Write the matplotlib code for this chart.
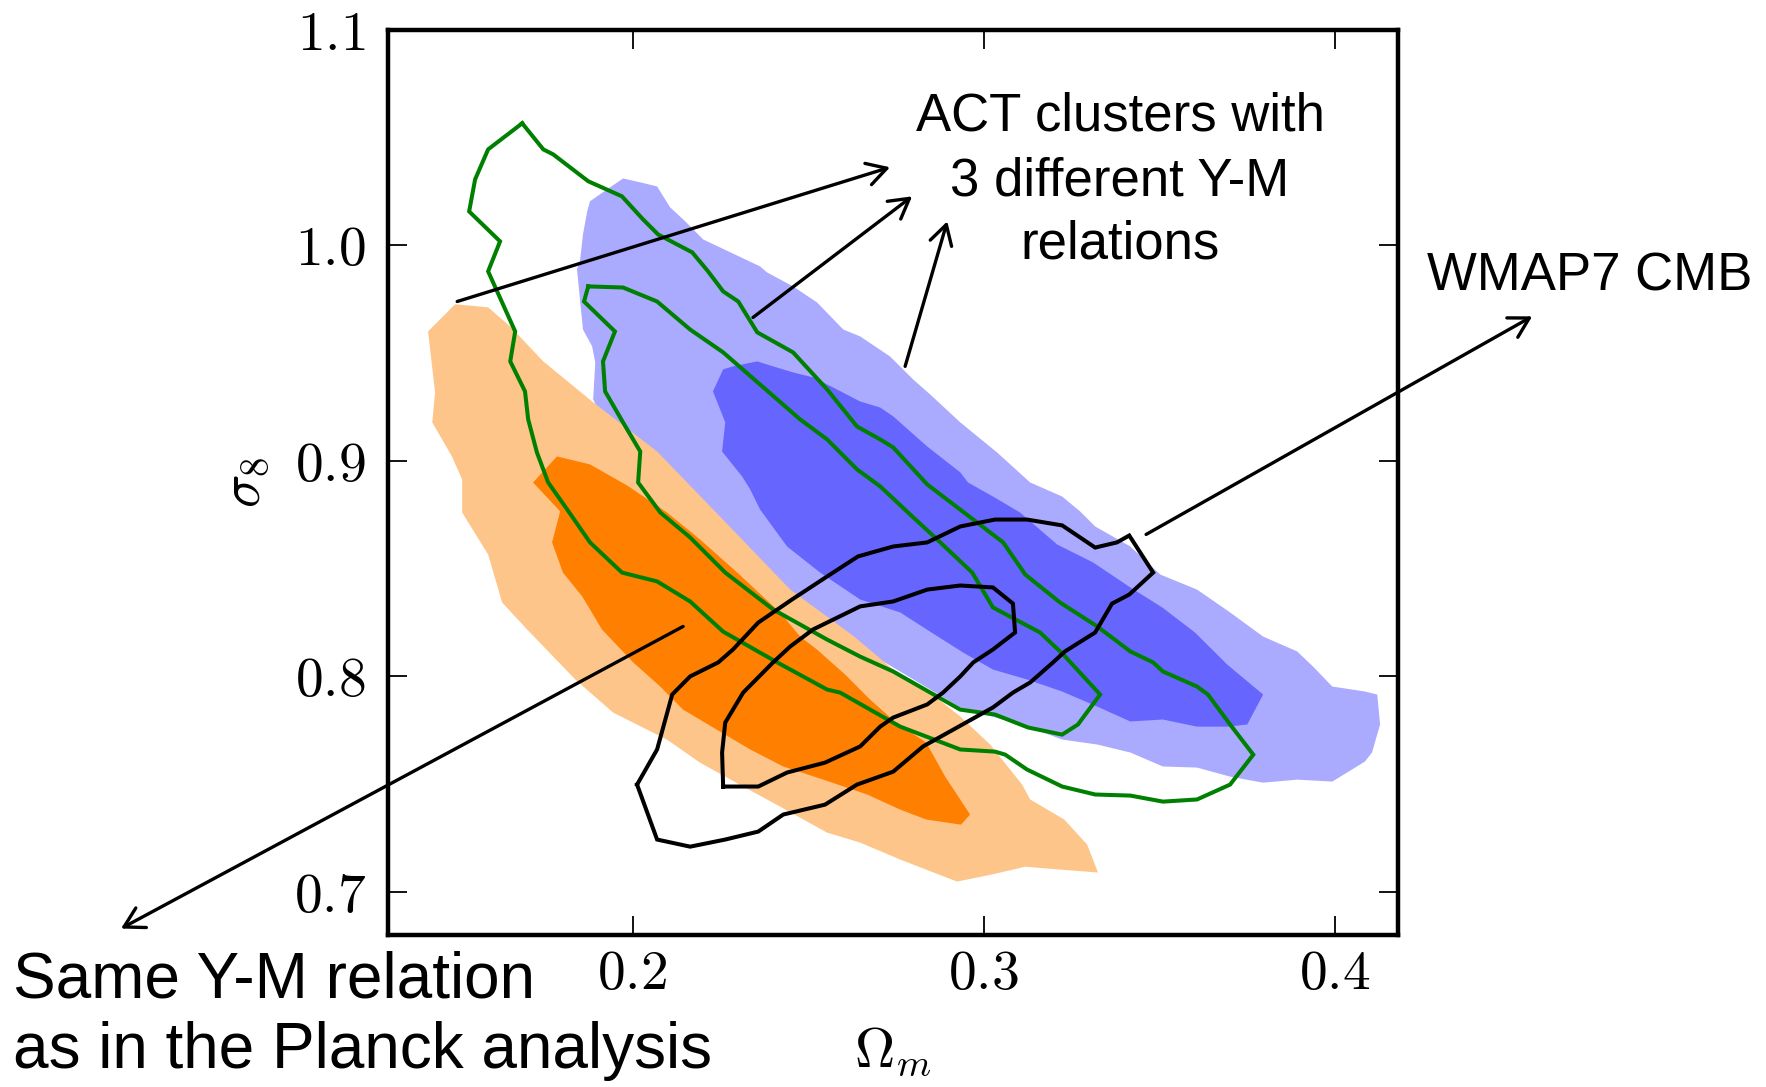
import numpy as np
import matplotlib
matplotlib.use("Agg")
import matplotlib.pyplot as plt

plt.rcParams["mathtext.fontset"] = "cm"
plt.rcParams["font.family"] = ["Liberation Sans", "DejaVu Sans"]

# Confidence-region boundaries in the (Omega_m, sigma_8) plane
wmap_fill_68 = np.array([
    (0.2229, 0.9323), (0.2258, 0.9425), (0.2286, 0.9439), (0.2355, 0.9462), (0.2400, 0.9439),
    (0.2457, 0.9411), (0.2514, 0.9388), (0.2571, 0.9341), (0.2648, 0.9276), (0.2705, 0.9248),
    (0.2742, 0.9207), (0.2839, 0.9067), (0.2933, 0.8947), (0.2955, 0.8900), (0.3026, 0.8835),
    (0.3103, 0.8761), (0.3209, 0.8612), (0.3311, 0.8529), (0.3417, 0.8413), (0.3508, 0.8320),
    (0.3601, 0.8204), (0.3693, 0.8055), (0.3795, 0.7916), (0.3750, 0.7777), (0.3695, 0.7767),
    (0.3607, 0.7767), (0.3510, 0.7800), (0.3417, 0.7791), (0.3323, 0.7860), (0.3223, 0.7930),
    (0.3123, 0.7986), (0.3026, 0.8032), (0.2941, 0.8111), (0.2847, 0.8208), (0.2762, 0.8297),
    (0.2648, 0.8357), (0.2534, 0.8482), (0.2440, 0.8603), (0.2363, 0.8775), (0.2335, 0.8868),
    (0.2312, 0.8928), (0.2255, 0.9044), (0.2264, 0.9179),
])

wmap_fill_95 = np.array([
    (0.1871, 1.0158), (0.1879, 1.0205), (0.1916, 1.0247), (0.1973, 1.0311), (0.2022, 1.0293),
    (0.2070, 1.0274), (0.2107, 1.0177), (0.2150, 1.0112), (0.2201, 1.0028), (0.2249, 0.9991),
    (0.2363, 0.9903), (0.2383, 0.9875), (0.2457, 0.9810), (0.2525, 0.9736), (0.2600, 0.9610),
    (0.2648, 0.9578), (0.2733, 0.9485), (0.2799, 0.9378), (0.2847, 0.9309), (0.2933, 0.9179),
    (0.3038, 0.9039), (0.3132, 0.8900), (0.3223, 0.8835), (0.3274, 0.8766), (0.3317, 0.8696),
    (0.3417, 0.8603), (0.3502, 0.8473), (0.3607, 0.8403), (0.3701, 0.8297), (0.3795, 0.8185),
    (0.3892, 0.8116), (0.3937, 0.8046), (0.3992, 0.7953), (0.4085, 0.7930), (0.4120, 0.7916),
    (0.4128, 0.7777), (0.4105, 0.7647), (0.4085, 0.7605), (0.3992, 0.7512), (0.3892, 0.7521),
    (0.3795, 0.7507), (0.3701, 0.7535), (0.3607, 0.7577), (0.3510, 0.7582), (0.3417, 0.7647),
    (0.3323, 0.7684), (0.3223, 0.7707), (0.3132, 0.7763), (0.2933, 0.7856), (0.2705, 0.8078),
    (0.2591, 0.8208), (0.2420, 0.8403), (0.2249, 0.8612), (0.2079, 0.8868), (0.1965, 0.9053),
    (0.1902, 0.9239), (0.1888, 0.9286), (0.1894, 0.9457), (0.1885, 0.9532), (0.1859, 0.9610),
    (0.1842, 0.9889), (0.1851, 0.9935), (0.1859, 1.0051),
])

planck_ym_68 = np.array([
    (0.1785, 0.9021), (0.1879, 0.8984), (0.1985, 0.8886), (0.2098, 0.8761), (0.2192, 0.8636),
    (0.2298, 0.8482), (0.2420, 0.8297), (0.2477, 0.8185), (0.2525, 0.8125), (0.2605, 0.8009),
    (0.2676, 0.7893), (0.2750, 0.7786), (0.2836, 0.7693), (0.2890, 0.7535), (0.2961, 0.7359),
    (0.2935, 0.7312), (0.2836, 0.7336), (0.2762, 0.7382), (0.2668, 0.7452), (0.2543, 0.7521),
    (0.2429, 0.7582), (0.2335, 0.7661), (0.2249, 0.7744), (0.2144, 0.7846), (0.2079, 0.7953),
    (0.2002, 0.8065), (0.1913, 0.8218), (0.1857, 0.8371), (0.1802, 0.8482), (0.1771, 0.8622),
    (0.1794, 0.8766), (0.1717, 0.8900),
])

planck_ym_95 = np.array([
    (0.1495, 0.9727), (0.1589, 0.9713), (0.1652, 0.9624), (0.1746, 0.9462), (0.1885, 0.9276),
    (0.2070, 0.9044), (0.2249, 0.8742), (0.2449, 0.8403), (0.2631, 0.8185), (0.2742, 0.8032),
    (0.2836, 0.7939), (0.2933, 0.7814), (0.3018, 0.7684), (0.3109, 0.7498), (0.3132, 0.7429),
    (0.3229, 0.7336), (0.3294, 0.7220), (0.3325, 0.7090), (0.3214, 0.7104), (0.3118, 0.7117),
    (0.3021, 0.7080), (0.2924, 0.7048), (0.2762, 0.7150), (0.2648, 0.7229), (0.2554, 0.7275),
    (0.2420, 0.7396), (0.2315, 0.7489), (0.2192, 0.7600), (0.2098, 0.7707), (0.1945, 0.7832),
    (0.1837, 0.7986), (0.1700, 0.8218), (0.1629, 0.8343), (0.1589, 0.8566), (0.1515, 0.8761),
    (0.1515, 0.8914), (0.1486, 0.9021), (0.1430, 0.9179), (0.1438, 0.9318), (0.1418, 0.9601),
])

act_ym_68 = np.array([
    (0.1874, 0.9810), (0.1973, 0.9805), (0.2070, 0.9740), (0.2164, 0.9610), (0.2258, 0.9504),
    (0.2363, 0.9355), (0.2477, 0.9193), (0.2554, 0.9100), (0.2639, 0.8961), (0.2705, 0.8882),
    (0.2790, 0.8752), (0.2867, 0.8636), (0.2967, 0.8482), (0.3026, 0.8320), (0.3160, 0.8204),
    (0.3226, 0.8102), (0.3331, 0.7916), (0.3268, 0.7777), (0.3223, 0.7730), (0.3126, 0.7763),
    (0.3032, 0.7823), (0.2933, 0.7846), (0.2742, 0.8023), (0.2648, 0.8092), (0.2554, 0.8171),
    (0.2400, 0.8311), (0.2264, 0.8482), (0.2164, 0.8645), (0.2079, 0.8761), (0.2016, 0.8900),
    (0.2022, 0.9044), (0.1973, 0.9179), (0.1922, 0.9323), (0.1916, 0.9462), (0.1950, 0.9601),
    (0.1862, 0.9740),
])

act_ym_95 = np.array([
    (0.1686, 1.0567), (0.1746, 1.0446), (0.1774, 1.0423), (0.1874, 1.0298), (0.1970, 1.0228),
    (0.2030, 1.0121), (0.2073, 1.0051), (0.2170, 0.9968), (0.2215, 0.9880), (0.2258, 0.9787),
    (0.2301, 0.9740), (0.2355, 0.9597), (0.2457, 0.9504), (0.2554, 0.9332), (0.2639, 0.9160),
    (0.2705, 0.9100), (0.2742, 0.9063), (0.2839, 0.8891), (0.2970, 0.8728), (0.3055, 0.8622),
    (0.3118, 0.8473), (0.3217, 0.8343), (0.3323, 0.8232), (0.3417, 0.8116), (0.3482, 0.8065),
    (0.3510, 0.8023), (0.3607, 0.7953), (0.3638, 0.7916), (0.3701, 0.7777), (0.3767, 0.7637),
    (0.3701, 0.7498), (0.3607, 0.7429), (0.3510, 0.7419), (0.3417, 0.7447), (0.3317, 0.7452),
    (0.3223, 0.7489), (0.3123, 0.7568), (0.3061, 0.7637), (0.3032, 0.7651), (0.2933, 0.7661),
    (0.2762, 0.7767), (0.2591, 0.7925), (0.2554, 0.7939), (0.2412, 0.8065), (0.2258, 0.8208),
    (0.2164, 0.8348), (0.2070, 0.8441), (0.1970, 0.8482), (0.1879, 0.8622), (0.1814, 0.8775),
    (0.1760, 0.8900), (0.1728, 0.9039), (0.1703, 0.9193), (0.1694, 0.9323), (0.1652, 0.9462),
    (0.1666, 0.9601), (0.1589, 0.9880), (0.1623, 1.0019), (0.1535, 1.0158), (0.1552, 1.0307),
    (0.1589, 1.0446),
])

cmb_68 = np.array([
    (0.2258, 0.7489), (0.2255, 0.7647), (0.2264, 0.7786), (0.2315, 0.7925), (0.2400, 0.8065),
    (0.2449, 0.8139), (0.2514, 0.8218), (0.2648, 0.8325), (0.2742, 0.8348), (0.2839, 0.8403),
    (0.2933, 0.8422), (0.3026, 0.8413), (0.3083, 0.8338), (0.3089, 0.8204), (0.3026, 0.8125),
    (0.2970, 0.8065), (0.2933, 0.8000), (0.2884, 0.7925), (0.2839, 0.7870), (0.2742, 0.7809),
    (0.2705, 0.7767), (0.2648, 0.7675), (0.2548, 0.7600), (0.2440, 0.7554), (0.2358, 0.7489),
])

cmb_95 = np.array([
    (0.2013, 0.7498), (0.2070, 0.7661), (0.2113, 0.7916), (0.2164, 0.8000), (0.2244, 0.8065),
    (0.2286, 0.8125), (0.2358, 0.8250), (0.2454, 0.8357), (0.2554, 0.8464), (0.2642, 0.8557),
    (0.2742, 0.8603), (0.2839, 0.8622), (0.2933, 0.8696), (0.3032, 0.8728), (0.3123, 0.8728),
    (0.3223, 0.8701), (0.3317, 0.8598), (0.3379, 0.8622), (0.3414, 0.8654), (0.3482, 0.8482),
    (0.3414, 0.8380), (0.3365, 0.8338), (0.3317, 0.8204), (0.3231, 0.8116), (0.3197, 0.8065),
    (0.3132, 0.7972), (0.3083, 0.7925), (0.3026, 0.7856), (0.2924, 0.7763), (0.2827, 0.7675),
    (0.2742, 0.7558), (0.2639, 0.7498), (0.2548, 0.7405), (0.2429, 0.7359), (0.2358, 0.7280),
    (0.2264, 0.7243), (0.2164, 0.7210), (0.2070, 0.7243),
])

x_ticks = [0.2, 0.3, 0.4]
x_tick_labels = [r"$0.2$", r"$0.3$", r"$0.4$"]
y_ticks = [0.7, 0.8, 0.9, 1.0, 1.1]
y_tick_labels = [r"$0.7$", r"$0.8$", r"$0.9$", r"$1.0$", r"$1.1$"]

# Annotation arrows: (tail, head) in data coordinates
act_arrows = [
    ((0.1501, 0.9740), (0.2733, 1.0363)),
    ((0.2343, 0.9666), (0.2796, 1.0228)),
    ((0.2776, 0.9439), (0.2896, 1.0112)),
]
cmb_arrow = ((0.3462, 0.8659), (0.4561, 0.9671))
planck_arrow = ((0.2144, 0.8232), (0.0544, 0.6830))

fig = plt.figure(figsize=(17.66, 10.87), dpi=100)
ax = fig.add_axes([388 / 1766, 1 - 935 / 1087, 1010 / 1766, 905 / 1087])

ax.fill(wmap_fill_95[:, 0], wmap_fill_95[:, 1], color="#AAAAFF", lw=0, zorder=1)
ax.fill(wmap_fill_68[:, 0], wmap_fill_68[:, 1], color="#6666FF", lw=0, zorder=2)
ax.fill(planck_ym_95[:, 0], planck_ym_95[:, 1], color="#FEC58A", lw=0, zorder=3)
ax.fill(planck_ym_68[:, 0], planck_ym_68[:, 1], color="#FF8000", lw=0, zorder=4)


def closed(c):
    return np.vstack([c, c[:1]])


for c in (act_ym_95, act_ym_68):
    cc = closed(c)
    ax.plot(cc[:, 0], cc[:, 1], color="green", lw=2.9, zorder=5,
            solid_joinstyle="miter")
for c in (cmb_95, cmb_68):
    cc = closed(c)
    ax.plot(cc[:, 0], cc[:, 1], color="black", lw=2.9, zorder=6,
            solid_joinstyle="miter")

arrow_kw = dict(arrowstyle="->,head_length=0.7,head_width=0.4", lw=2.4,
                color="black", mutation_scale=20, shrinkA=0, shrinkB=0)
for tail, head in act_arrows + [cmb_arrow, planck_arrow]:
    ax.annotate("", xy=head, xytext=tail, xycoords="data", textcoords="data",
                arrowprops=arrow_kw, annotation_clip=False, zorder=7)

ax.set_xlim(0.1304, 0.4179)
ax.set_ylim(0.68, 1.1)
ax.set_xticks(x_ticks)
ax.set_xticklabels(x_tick_labels)
ax.set_yticks(y_ticks)
ax.set_yticklabels(y_tick_labels)
ax.tick_params(direction="in", length=14, width=1.3, top=True, right=True,
               labelsize=40)
ax.tick_params(axis="x", pad=10)
ax.tick_params(axis="y", pad=16)
for s in ax.spines.values():
    s.set_linewidth(3.2)

ax.set_xlabel(r"$\Omega_m$", fontsize=40, labelpad=18)
ax.set_ylabel(r"$\sigma_8$", fontsize=40, labelpad=16)

act_lines = ["ACT clusters with", "3 different Y-M", "relations"]
act_baselines = [1 - 130.7 / 1087, 1 - 195 / 1087, 1 - 258.3 / 1087]
for line, yb in zip(act_lines, act_baselines):
    fig.text(1120 / 1766, yb, line, ha="center", va="baseline", fontsize=38)

fig.text(1427 / 1766, 1 - 290.7 / 1087, "WMAP7 CMB", ha="left", va="baseline",
         fontsize=38)

planck_lines = ["Same Y-M relation", "as in the Planck analysis"]
planck_baselines = [1 - 997.7 / 1087, 1 - 1068 / 1087]
for line, yb in zip(planck_lines, planck_baselines):
    fig.text(13 / 1766, yb, line, ha="left", va="baseline", fontsize=46)

fig.savefig("out.png", dpi=100)
